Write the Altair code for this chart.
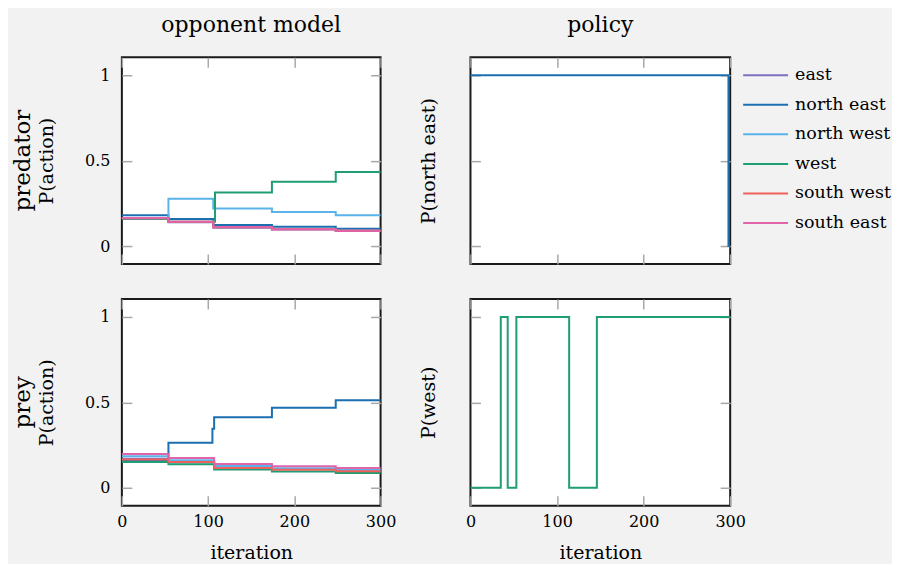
import altair as alt
import pandas as pd

FONT = "DejaVu Serif"

ACTIONS = ["east", "north east", "north west", "west", "south west", "south east"]
COLORS = ["#7e6fc0", "#1b6fb0", "#5ab4ea", "#1f9d74", "#f0605c", "#e064a8"]

# ---- predator, opponent model: P(action) per iteration (step values)
pred_om_iter = [0, 54, 106, 174, 248, 300]
pred_om_east = [0.160, 0.140, 0.108, 0.097, 0.088, 0.088]
pred_om_ne = [0.181, 0.158, 0.123, 0.113, 0.101, 0.101]
pred_om_nw = [0.165, 0.277, 0.220, 0.200, 0.181, 0.181]
pred_om_w_iter = [0, 54, 108, 174, 248, 300]
pred_om_w = [0.160, 0.142, 0.314, 0.376, 0.433, 0.433]
pred_om_sw = [0.163, 0.142, 0.110, 0.099, 0.090, 0.090]
pred_om_se = [0.165, 0.143, 0.111, 0.099, 0.090, 0.090]

# ---- prey, opponent model
prey_om_iter = [0, 54, 107, 174, 248, 300]
prey_om_ne_iter = [0, 54, 105, 107, 174, 248, 300]
prey_om_ne = [0.160, 0.263, 0.345, 0.413, 0.469, 0.513, 0.513]
prey_om_east = [0.170, 0.150, 0.122, 0.110, 0.100, 0.100]
prey_om_nw = [0.184, 0.161, 0.128, 0.114, 0.105, 0.105]
prey_om_w = [0.151, 0.138, 0.107, 0.095, 0.087, 0.087]
prey_om_sw = [0.165, 0.151, 0.116, 0.105, 0.097, 0.097]
prey_om_se = [0.198, 0.174, 0.140, 0.126, 0.116, 0.116]

# ---- policies
pred_pol_iter = [0, 298, 300]
pred_pol_ne = [1, 0, 0]
prey_pol_iter = [0, 35, 43, 53, 114, 146, 300]
prey_pol_w = [0, 1, 0, 1, 0, 1, 1]

ROW_LABELS = ["predator", "prey"]
COL_LABELS = ["opponent model", "policy"]


def frame(series):
    rows = []
    for action, iters, vals in series:
        for i, v in zip(iters, vals):
            rows.append({"action": action, "iteration": i, "p": v})
    return pd.DataFrame(rows)


df_pred_om = frame([
    ("east", pred_om_iter, pred_om_east),
    ("north east", pred_om_iter, pred_om_ne),
    ("north west", pred_om_iter, pred_om_nw),
    ("west", pred_om_w_iter, pred_om_w),
    ("south west", pred_om_iter, pred_om_sw),
    ("south east", pred_om_iter, pred_om_se),
])
df_prey_om = frame([
    ("east", prey_om_iter, prey_om_east),
    ("north east", prey_om_ne_iter, prey_om_ne),
    ("north west", prey_om_iter, prey_om_nw),
    ("west", prey_om_iter, prey_om_w),
    ("south west", prey_om_iter, prey_om_sw),
    ("south east", prey_om_iter, prey_om_se),
])
df_pred_pol = frame([("north east", pred_pol_iter, pred_pol_ne)])
df_prey_pol = frame([("west", prey_pol_iter, prey_pol_w)])

color_scale = alt.Scale(domain=ACTIONS, range=COLORS)
xscale = alt.Scale(domain=[0, 300], nice=False, zero=False)
yscale = alt.Scale(domain=[-0.105, 1.105], nice=False, zero=False)

tick_style = dict(offset=-10, tickSize=10, tickColor="#a8a8a8", tickWidth=1.5,
                  domain=False, grid=False, labelFont=FONT, labelFontSize=16,
                  labelColor="black", labelFlush=False, labelOverlap=False,
                  titleFont=FONT, titleFontSize=19,
                  titleColor="black", titleFontWeight="normal")

W, H = 259, 207


def panel(df, ytitle, bottom_row, left_col, width, title=None, row_label=None):
    xaxis = alt.Axis(orient="bottom", values=[0, 100, 200, 300], labels=True,
                     labelOpacity=1 if bottom_row else 0,
                     title="iteration" if bottom_row else None, labelPadding=8,
                     titlePadding=14, **tick_style)
    yaxis = alt.Axis(orient="left", values=[0, 0.5, 1], labels=left_col, format="~g",
                     title=ytitle, labelPadding=12,
                     titlePadding=28 if left_col else 31, **tick_style)
    xaxis2 = alt.Axis(orient="top", values=[0, 100, 200, 300], labels=False, title=None,
                      **tick_style)
    yaxis2 = alt.Axis(orient="right", values=[0, 0.5, 1], labels=False, title=None,
                      **tick_style)
    color = alt.Color("action:N", scale=color_scale, sort=ACTIONS, title=None)
    base = alt.Chart(df)
    main = base.mark_line(interpolate="step-after", strokeWidth=2).encode(
        x=alt.X("iteration:Q", scale=xscale, axis=xaxis),
        y=alt.Y("p:Q", scale=yscale, axis=yaxis),
        color=color,
    )
    mirror = base.mark_line(interpolate="step-after", opacity=0).encode(
        x=alt.X("iteration:Q", scale=xscale, axis=xaxis2),
        y=alt.Y("p:Q", scale=yscale, axis=yaxis2),
        color=color,
    )
    layers = [main, mirror]
    if row_label is not None:
        label = alt.Chart(pd.DataFrame({"t": [row_label]})).mark_text(
            angle=270, align="center", baseline="middle", font=FONT, fontSize=23,
            color="black"
        ).encode(text="t:N", x=alt.value(-99), y=alt.value(H / 2))
        layers.append(label)
    props = dict(width=width, height=H)
    if title is not None:
        props["title"] = alt.TitleParams(title, font=FONT, fontSize=22,
                                         fontWeight="normal", color="black",
                                         anchor="middle", offset=20)
    return alt.layer(*layers).resolve_axis(x="independent", y="independent").properties(**props)


tl = panel(df_pred_om, "P(action)", False, True, W, COL_LABELS[0], ROW_LABELS[0])
tr = panel(df_pred_pol, "P(north east)", False, False, 260, COL_LABELS[1])
bl = panel(df_prey_om, "P(action)", True, True, W, None, ROW_LABELS[1])
br = panel(df_prey_pol, "P(west)", True, False, 260)

top = alt.hconcat(tl, tr, spacing=21)
bottom = alt.hconcat(bl, br, spacing=21)

chart = alt.vconcat(top, bottom, spacing=8).configure(
    background="#f2f2f2", padding={"left": 3, "top": 4, "right": 0, "bottom": 0}
).configure_view(
    fill="white", stroke="#1a1a1a", strokeWidth=2
).configure_legend(
    orient="none", legendX=621, legendY=8, symbolType="stroke", symbolSize=2025,
    symbolStrokeWidth=2, labelFont=FONT, labelFontSize=17.5, labelColor="black",
    labelOffset=6, rowPadding=9.6, clipHeight=20
)

chart.save("out.html", embed_options={"renderer": "svg", "actions": False})
